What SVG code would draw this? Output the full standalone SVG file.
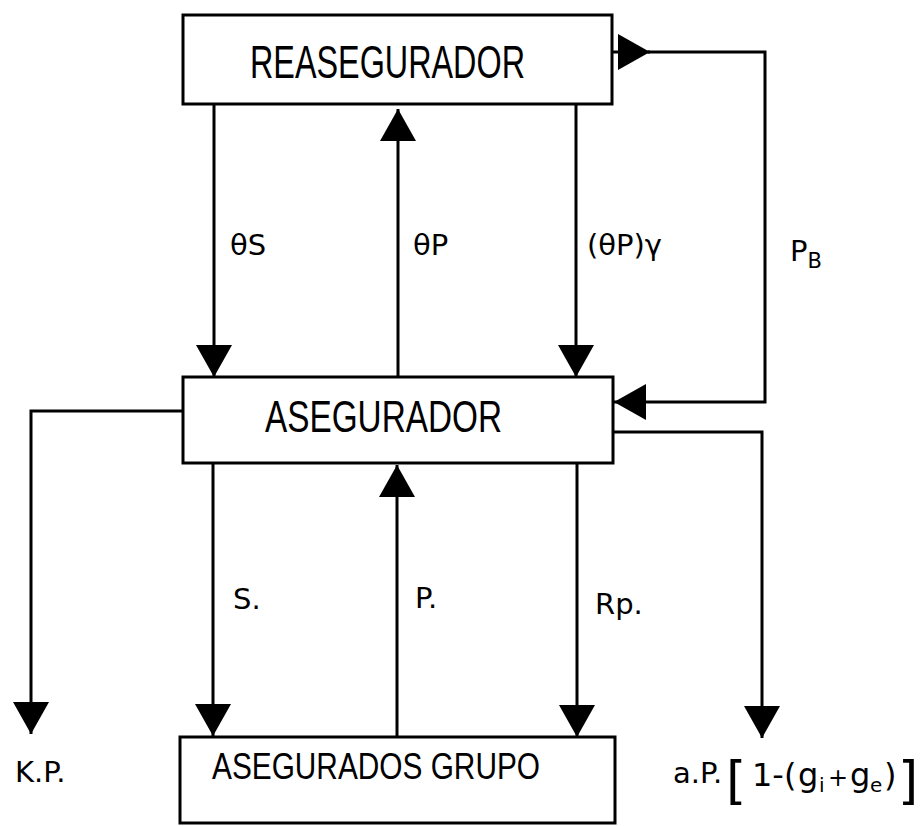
<svg xmlns="http://www.w3.org/2000/svg" width="921" height="826" viewBox="0 0 921 826">
<style>
  .box { fill: #fff; stroke: #000; stroke-width: 3; }
  .title { font-family: "Liberation Sans", "DejaVu Sans", sans-serif; fill: #000; }
  .lbl { font-family: "DejaVu Sans", "Liberation Sans", sans-serif; fill: #000; font-size: 29px; }
  .con { fill: none; stroke: #000; stroke-width: 3; }
</style>
<defs>
  <marker id="ah" markerUnits="userSpaceOnUse" markerWidth="34" markerHeight="38" refX="32" refY="18" orient="auto" viewBox="0 0 34 38">
    <path d="M0,0 L32,18 L0,36 Z" fill="#000"/>
  </marker>
</defs>

<g id="connectors">
  <!-- REASEGURADOR -> ASEGURADOR : θS -->
  <line class="con" x1="214" y1="104" x2="214" y2="377" marker-end="url(#ah)"/>
  <!-- ASEGURADOR -> REASEGURADOR : θP -->
  <line class="con" x1="398" y1="377" x2="398" y2="109" marker-end="url(#ah)"/>
  <!-- REASEGURADOR -> ASEGURADOR : (θP)γ -->
  <line class="con" x1="576" y1="104" x2="576" y2="377" marker-end="url(#ah)"/>
  <!-- P_B loop -->
  <line class="con" x1="612" y1="52" x2="650" y2="52" marker-end="url(#ah)"/>
  <path class="con" d="M648,52 H765 V402 H614" marker-end="url(#ah)"/>
  <!-- ASEGURADOR -> K.P. -->
  <path class="con" d="M183,411 H31 V734" marker-end="url(#ah)"/>
  <!-- ASEGURADOR -> a.P.[...] -->
  <path class="con" d="M613,432 H762 V738" marker-end="url(#ah)"/>
  <!-- ASEGURADOR -> GRUPO : S. -->
  <line class="con" x1="213" y1="463" x2="213" y2="736" marker-end="url(#ah)"/>
  <!-- GRUPO -> ASEGURADOR : P. -->
  <line class="con" x1="397" y1="737" x2="397" y2="465" marker-end="url(#ah)"/>
  <!-- ASEGURADOR -> GRUPO : Rp. -->
  <line class="con" x1="577" y1="463" x2="577" y2="737" marker-end="url(#ah)"/>
</g>

<g id="reasegurador">
  <rect class="box" x="183" y="15" width="429" height="89"/>
  <text class="title" x="250" y="78" font-size="46" textLength="275" lengthAdjust="spacingAndGlyphs">REASEGURADOR</text>
</g>

<g id="asegurador">
  <rect class="box" x="183" y="377" width="430" height="86"/>
  <text class="title" x="265" y="432" font-size="45" textLength="237" lengthAdjust="spacingAndGlyphs">ASEGURADOR</text>
</g>

<g id="asegurados-grupo">
  <rect class="box" x="180" y="737" width="435" height="86"/>
  <text class="title" x="212" y="779" font-size="36" textLength="328" lengthAdjust="spacingAndGlyphs">ASEGURADOS GRUPO</text>
</g>

<g id="labels">
  <text class="lbl" x="230" y="255">θS</text>
  <text class="lbl" x="413" y="255">θP</text>
  <text class="lbl" x="587" y="255">(θP)γ</text>
  <text class="lbl" x="790" y="261" font-size="32">P<tspan font-size="21" dy="7">B</tspan></text>
  <text class="lbl" x="233" y="609">S.</text>
  <text class="lbl" x="415" y="608">P.</text>
  <text class="lbl" x="595" y="614">Rp.</text>
  <text class="lbl" x="15" y="782">K.P.</text>
  <text class="lbl" y="783" font-size="28"><tspan x="673">a.P.</tspan><tspan x="726" y="798" font-size="52">[</tspan><tspan x="752" y="786" font-size="32">1-(</tspan><tspan x="798" y="786" font-size="32">g</tspan><tspan x="819" y="792" font-size="20">i</tspan><tspan x="828" y="786" font-size="24">+</tspan><tspan x="850" y="786" font-size="32">g</tspan><tspan x="870" y="792" font-size="20">e</tspan><tspan x="884" y="786" font-size="32">)</tspan><tspan x="898" y="798" font-size="52">]</tspan></text>
</g>
</svg>
